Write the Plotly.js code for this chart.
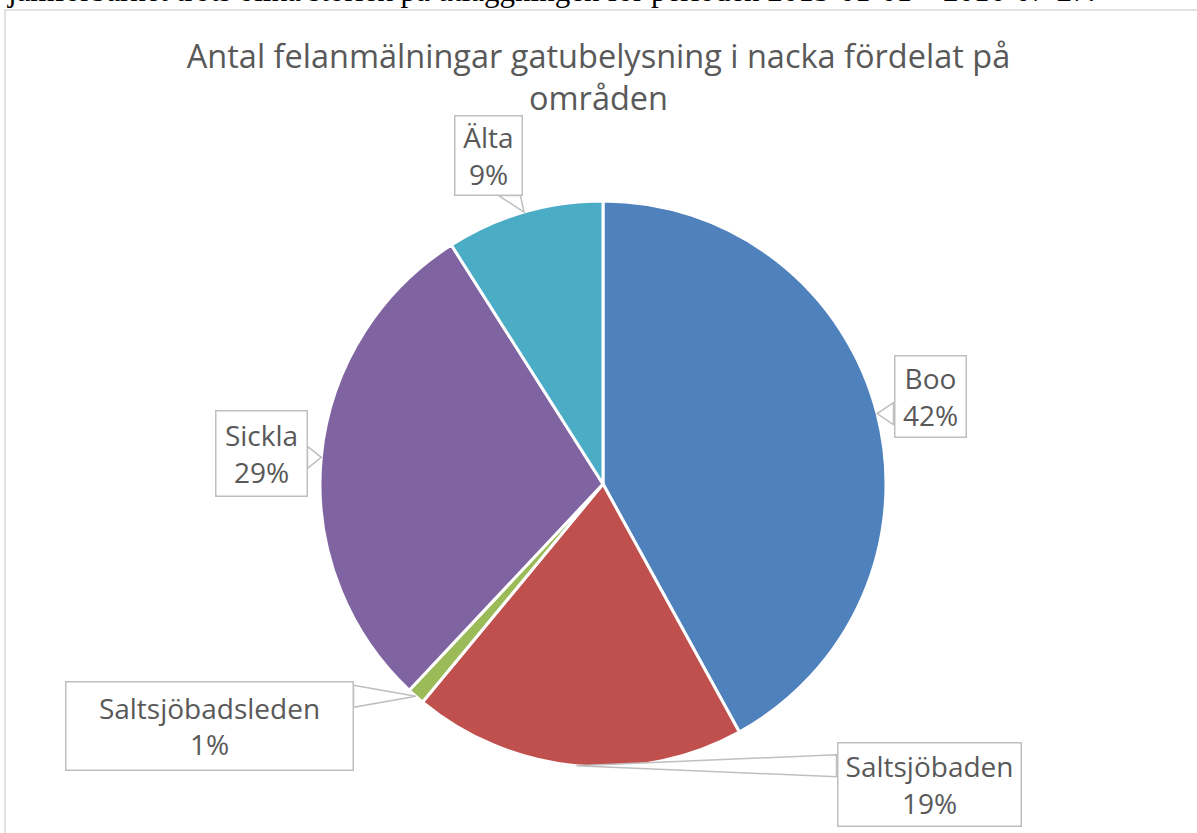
<!DOCTYPE html>
<html>
<head>
<meta charset="utf-8">
<script src="https://cdn.plot.ly/plotly-3.0.1.min.js"></script>
<style>html,body{margin:0;padding:0;background:#fff;}#chart{width:1197px;height:833px;}</style>
</head>
<body>
<div id="chart"></div>
<script>
// ---- data ----
const areas = ["Boo", "Saltsjöbaden", "Saltsjöbadsleden", "Sickla", "Älta"];
const shares = [42, 19, 1, 29, 9];
const sliceColors = ["#4F81BD", "#C0504D", "#9BBB59", "#8064A2", "#4BACC6"];
const chartTitle = "Antal felanmälningar gatubelysning i nacka fördelat på<br>områden";
const pageText = "jämförbarhet trots olika storlek på utläggningen för perioden 2015-01-01 – 2016-07-27.";

// ---- layout constants (pixels) ----
const W = 1197, H = 833;
const CX = 603, CY = 484, R = 283;
// label box centres and sizes [cx, cy, w, h]
const labelBoxes = [
  [930, 396, 73, 83],
  [929, 784, 185, 85],
  [209, 726, 289, 90],
  [261, 453, 93, 87],
  [488, 155, 69, 81]
];
const BASE = 22; // callout pointer base width

const px = x => x / W, py = y => 1 - y / H;

const total = shares.reduce((a, b) => a + b, 0);
let cum = 0;
const annotations = [];
const shapes = [{
  type: 'rect', xref: 'paper', yref: 'paper',
  x0: px(5), x1: 1.01, y0: -0.01, y1: py(10),
  line: {color: '#D9D9D9', width: 1.5}, fillcolor: 'rgba(0,0,0,0)', layer: 'below'
}];
shares.forEach((v, i) => {
  const mid = (cum + v / 2) / total * 2 * Math.PI;
  cum += v;
  const tx = CX + R * Math.sin(mid);
  const ty = CY - R * Math.cos(mid);
  const [bx, by, bw, bh] = labelBoxes[i];
  const l = bx - bw / 2, r = bx + bw / 2, t = by - bh / 2, btm = by + bh / 2;
  const nx = (tx - bx) / (bw / 2), ny = (ty - by) / (bh / 2);
  const clamp = (v, a, b) => Math.max(a, Math.min(b, v));
  let p1, p2;
  if (Math.abs(nx) >= Math.abs(ny)) {
    const ex = nx > 0 ? r : l;
    const c = clamp(ty, t + BASE / 2 + 2, btm - BASE / 2 - 2);
    p1 = [ex, c - BASE / 2]; p2 = [ex, c + BASE / 2];
  } else {
    const ey = ny > 0 ? btm : t;
    const c = clamp(tx, l + BASE / 2 + 2, r - BASE / 2 - 2);
    p1 = [c - BASE / 2, ey]; p2 = [c + BASE / 2, ey];
  }
  shapes.push({
    type: 'path', xref: 'paper', yref: 'paper', layer: 'above',
    path: `M${px(p1[0])},${py(p1[1])} L${px(tx)},${py(ty)} L${px(p2[0])},${py(p2[1])} Z`,
    line: {color: '#BFBFBF', width: 1.5}, fillcolor: '#FFFFFF'
  });
  annotations.push({
    xref: 'paper', yref: 'paper',
    x: px(bx), y: py(by), xanchor: 'center', yanchor: 'middle',
    showarrow: false,
    text: areas[i] + '<br>' + Math.round(v / total * 100) + '%',
    font: {family: 'Open Sans, sans-serif', size: 28, color: '#595959'},
    bgcolor: '#FFFFFF', bordercolor: '#BFBFBF', borderwidth: 1.5, borderpad: 0,
    width: bw - 3, height: bh - 3, align: 'center', valign: 'middle'
  });
});
annotations.push({
  xref: 'paper', yref: 'paper', x: px(5), y: py(-9),
  xanchor: 'left', yanchor: 'middle', showarrow: false,
  text: pageText,
  font: {family: 'Liberation Serif, serif', size: 31, color: '#000'}
});

const trace = {
  type: 'pie',
  labels: areas,
  values: shares,
  sort: false,
  direction: 'clockwise',
  rotation: 0,
  marker: {colors: sliceColors, line: {color: '#FFFFFF', width: 3}},
  textinfo: 'none',
  hoverinfo: 'label+percent',
  domain: {x: [px(CX - R), px(CX + R)], y: [py(CY + R), py(CY - R)]}
};

const layout = {
  width: W, height: H,
  margin: {l: 0, r: 0, t: 0, b: 0},
  paper_bgcolor: '#FFFFFF',
  showlegend: false,
  title: {
    text: chartTitle,
    x: 0.5, xanchor: 'center', xref: 'paper',
    y: py(68), yanchor: 'middle', yref: 'container',
    font: {family: 'Open Sans, sans-serif', size: 32.5, color: '#595959'}
  },
  shapes: shapes,
  annotations: annotations
};

Plotly.newPlot('chart', [trace], layout, {displayModeBar: false, staticPlot: true});
</script>
</body>
</html>
